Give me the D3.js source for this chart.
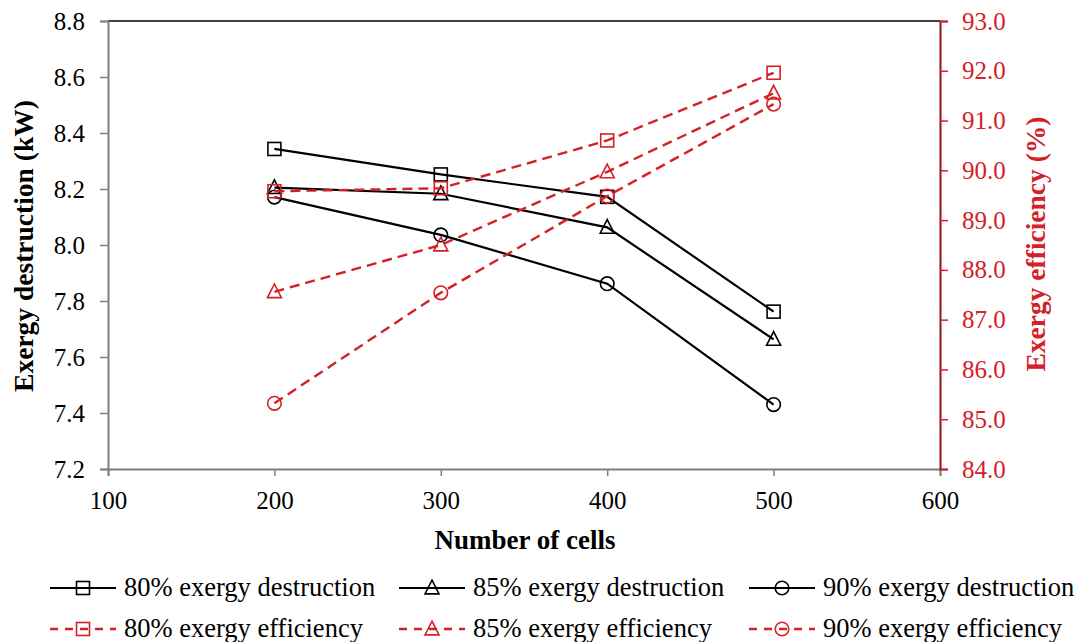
<!DOCTYPE html>
<html>
<head>
<meta charset="utf-8">
<script src="https://cdn.jsdelivr.net/npm/d3@7"></script>
<style>
  html, body { margin: 0; padding: 0; background: #fff; }
  svg { display: block; }
</style>
</head>
<body>
<svg id="chart" width="1082" height="642"></svg>
<script>
// Number of cells on the x axis
const cells = [200, 300, 400, 500];

// Exergy destruction (kW), left axis
const destruction80 = [8.343, 8.252, 8.172, 7.762];
const destruction85 = [8.205, 8.183, 8.063, 7.663];
const destruction90 = [8.171, 8.036, 7.862, 7.430];

// Exergy efficiency (%), right axis
const efficiency80 = [89.58, 89.64, 90.60, 91.96];
const efficiency85 = [87.56, 88.50, 89.97, 91.55];
const efficiency90 = [85.32, 87.54, 89.48, 91.33];

const xTicks = [100, 200, 300, 400, 500, 600];
const leftTicks = [7.2, 7.4, 7.6, 7.8, 8.0, 8.2, 8.4, 8.6, 8.8];
const rightTicks = [84, 85, 86, 87, 88, 89, 90, 91, 92, 93];

const series = [
  { name: "80% exergy destruction", values: destruction80, axis: "left", marker: "square" },
  { name: "85% exergy destruction", values: destruction85, axis: "left", marker: "triangle" },
  { name: "90% exergy destruction", values: destruction90, axis: "left", marker: "circle" },
  { name: "80% exergy efficiency", values: efficiency80, axis: "right", marker: "square" },
  { name: "85% exergy efficiency", values: efficiency85, axis: "right", marker: "triangle" },
  { name: "90% exergy efficiency", values: efficiency90, axis: "right", marker: "circle" }
];

const FONT = '"Liberation Serif", "Times New Roman", Times, serif';
const BLACK = "#000000";
const RED = "#d42027";
const DARKRED = "#8f1418";
const GRAY = "#7f7f7f";

const svg = d3.select("#chart");
const plot = { left: 108, right: 940, top: 21, bottom: 469 };

const x = d3.scaleLinear().domain([100, 600]).range([plot.left, plot.right]);
const yL = d3.scaleLinear().domain([7.2, 8.8]).range([plot.bottom, plot.top]);
const yR = d3.scaleLinear().domain([84, 93]).range([plot.bottom, plot.top]);

// Top frame line
svg.append("line")
  .attr("x1", plot.left).attr("x2", plot.right)
  .attr("y1", plot.top).attr("y2", plot.top)
  .attr("stroke", BLACK).attr("stroke-width", 1.5);

function styleTicks(g, color) {
  g.selectAll(".tick text")
    .attr("fill", color)
    .attr("font-size", 25)
    .style("font-family", FONT);
}

// Bottom axis
const gx = svg.append("g")
  .attr("transform", `translate(0,${plot.bottom})`)
  .call(d3.axisBottom(x).tickValues(xTicks).tickFormat(d3.format("d"))
    .tickSizeOuter(0).tickSize(7).tickPadding(15));
gx.select(".domain").attr("stroke", GRAY).attr("stroke-width", 2);
gx.selectAll(".tick line").attr("stroke", GRAY).attr("stroke-width", 1.5);
styleTicks(gx, BLACK);

// Left axis
const gl = svg.append("g")
  .attr("transform", `translate(${plot.left},0)`)
  .call(d3.axisLeft(yL).tickValues(leftTicks).tickFormat(d3.format(".1f"))
    .tickSizeOuter(0).tickSize(8).tickPadding(15));
gl.select(".domain").attr("stroke", GRAY).attr("stroke-width", 2);
gl.selectAll(".tick line").attr("stroke", GRAY).attr("stroke-width", 1.5);
styleTicks(gl, BLACK);

// Right axis
const gr = svg.append("g")
  .attr("transform", `translate(${plot.right},0)`)
  .call(d3.axisRight(yR).tickValues(rightTicks).tickFormat(d3.format(".1f"))
    .tickSizeOuter(0).tickSize(8).tickPadding(14));
gr.select(".domain").attr("stroke", DARKRED).attr("stroke-width", 2);
gr.selectAll(".tick line").attr("stroke", RED).attr("stroke-width", 1.5);
styleTicks(gr, RED);

// Axis titles
svg.append("text")
  .attr("transform", `translate(33,246) rotate(-90)`)
  .attr("text-anchor", "middle")
  .attr("font-size", 27.5).attr("font-weight", "bold").attr("fill", BLACK)
  .style("font-family", FONT)
  .text("Exergy destruction (kW)");

svg.append("text")
  .attr("transform", `translate(1045,244) rotate(-90)`)
  .attr("text-anchor", "middle")
  .attr("font-size", 27.5).attr("font-weight", "bold").attr("fill", RED)
  .style("font-family", FONT)
  .text("Exergy efficiency (%)");

svg.append("text")
  .attr("x", 525).attr("y", 549)
  .attr("text-anchor", "middle")
  .attr("font-size", 27).attr("font-weight", "bold").attr("fill", BLACK)
  .style("font-family", FONT)
  .text("Number of cells");

// Hollow marker symbols
function drawMarker(g, type, cx, cy, color) {
  const s = 13;
  if (type === "square") {
    g.append("rect")
      .attr("x", cx - s / 2).attr("y", cy - s / 2)
      .attr("width", s).attr("height", s)
      .attr("fill", "none").attr("stroke", color).attr("stroke-width", 1.6);
  } else if (type === "triangle") {
    const h = 13;
    g.append("path")
      .attr("d", `M${cx},${cy - h * 0.6} L${cx + s / 2 + 0.5},${cy + h * 0.45} L${cx - s / 2 - 0.5},${cy + h * 0.45} Z`)
      .attr("fill", "none").attr("stroke", color).attr("stroke-width", 1.6);
  } else {
    g.append("circle")
      .attr("cx", cx).attr("cy", cy).attr("r", 6.8)
      .attr("fill", "none").attr("stroke", color).attr("stroke-width", 1.6);
  }
}

const plotLayer = svg.append("g");

series.forEach(s => {
  const yScale = s.axis === "left" ? yL : yR;
  const color = s.axis === "left" ? BLACK : RED;
  const pts = cells.map((c, i) => [x(c), yScale(s.values[i])]);
  const g = plotLayer.append("g");
  g.append("path")
    .attr("d", d3.line()(pts))
    .attr("fill", "none")
    .attr("stroke", color)
    .attr("stroke-width", s.axis === "left" ? 2.2 : 2.4)
    .attr("stroke-dasharray", s.axis === "left" ? null : "10,6");
  pts.forEach(p => drawMarker(g, s.marker, p[0], p[1], color));
});

// Legend: three columns, two rows
const legendCols = [50, 399, 749];
const legendRows = [588, 629];
series.forEach((s, i) => {
  const lx = legendCols[i % 3];
  const ly = legendRows[Math.floor(i / 3)];
  const color = s.axis === "left" ? BLACK : RED;
  const g = svg.append("g");
  g.append("line")
    .attr("x1", lx).attr("x2", lx + 66)
    .attr("y1", ly).attr("y2", ly)
    .attr("stroke", color)
    .attr("stroke-width", s.axis === "left" ? 2.2 : 2.4)
    .attr("stroke-dasharray", s.axis === "left" ? null : "8,7");
  drawMarker(g, s.marker, lx + 33, ly, color);
  g.append("text")
    .attr("x", lx + 74).attr("y", ly + 8)
    .attr("font-size", 26.5).attr("fill", BLACK)
    .style("font-family", FONT)
    .text(s.name);
});
</script>
</body>
</html>
